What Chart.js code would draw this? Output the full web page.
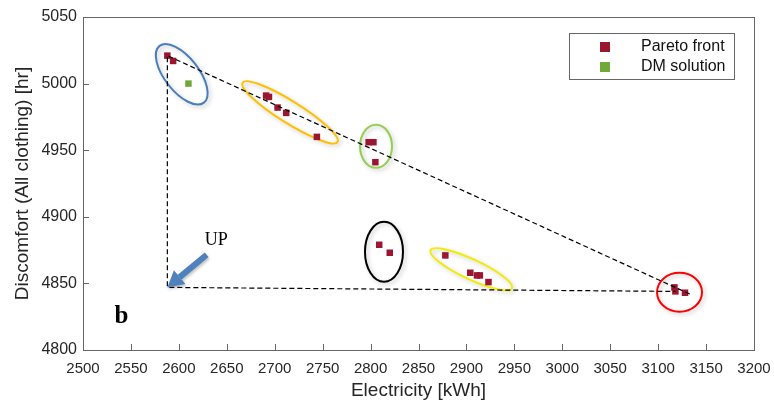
<!DOCTYPE html>
<html>
<head>
<meta charset="utf-8">
<script src="https://cdn.jsdelivr.net/npm/chart.js@4.4.1/dist/chart.umd.min.js"></script>
<style>
  html, body { margin: 0; padding: 0; background: #fff; }
</style>
</head>
<body>
<canvas id="paretoChart" width="774" height="403"></canvas>
<script>
// values
const paretoElec = [2588, 2594, 2691, 2694, 2703, 2712, 2744, 2798, 2803, 2805, 2809, 2820, 2878, 2904, 2911, 2914, 2923, 3117, 3118, 3128];
const paretoDisc = [5021, 5017, 4991, 4990, 4982, 4978, 4960, 4956, 4956, 4941, 4879, 4873, 4871, 4858, 4856, 4856, 4851, 4847, 4844, 4843];
const dmElec = [2610];
const dmDisc = [5000];
// dashed triangle: far end -> top-left -> utopia point -> far end
const frontElec = [3133, 2588, 2588, 3118];
const frontDisc = [4842, 5021, 4847, 4844];
const seriesNames = ["Pareto front", "DM solution"];
const xLimits = [2500, 3200];
const yLimits = [4800, 5050];

const paretoColor = "#9b1631";
const dmColor = "#72a83a";
const fontSans = "'Liberation Sans', Arial, sans-serif";
const fontSerif = "'Liberation Serif', 'Times New Roman', serif";

// hand drawn groupings (centre in data units, radii in px)
const ellipses = [
  {x: 2603, y: 5007, rx: 36, ry: 17, rot: 52, color: "#4a7ebb"},
  {x: 2716, y: 4978.4, rx: 56, ry: 11, rot: 32, color: "#ffc000"},
  {x: 2805.7, y: 4952.9, rx: 16, ry: 21.5, rot: 0, color: "#92d050"},
  {x: 2814, y: 4873.7, rx: 19, ry: 30, rot: 0, color: "#000000"},
  {x: 2905, y: 4860.6, rx: 45, ry: 10, rot: 25, color: "#f2ec00"},
  {x: 3122.3, y: 4843.3, rx: 22.5, ry: 19.5, rot: 0, color: "#ff0000"}
];

const toPoints = (xs, ys) => xs.map((v, i) => ({x: v, y: ys[i]}));

const overlay = {
  id: "overlay",
  beforeDatasetsDraw(chart) {
    const {ctx, scales: {x, y}} = chart;
    ellipses.forEach(e => {
      ctx.save();
      ctx.shadowColor = "rgba(0,0,0,0.22)";
      ctx.shadowBlur = 4;
      ctx.shadowOffsetX = 2;
      ctx.shadowOffsetY = 2;
      ctx.strokeStyle = e.color;
      ctx.lineWidth = 2;
      ctx.beginPath();
      ctx.ellipse(x.getPixelForValue(e.x), y.getPixelForValue(e.y), e.rx, e.ry, e.rot * Math.PI / 180, 0, 2 * Math.PI);
      ctx.stroke();
      ctx.restore();
    });
  },
  afterDraw(chart) {
    const {ctx, chartArea: a, scales: {x, y}} = chart;
    ctx.save();
    // box + inward ticks
    ctx.strokeStyle = "#666";
    ctx.lineWidth = 1;
    ctx.strokeRect(a.left + 0.5, a.top + 0.5, a.right - a.left, a.bottom - a.top);
    ctx.beginPath();
    x.ticks.forEach(t => {
      const px = Math.round(x.getPixelForValue(t.value)) + 0.5;
      ctx.moveTo(px, a.bottom); ctx.lineTo(px, a.bottom - 6);
    });
    y.ticks.forEach(t => {
      const py = Math.round(y.getPixelForValue(t.value)) + 0.5;
      ctx.moveTo(a.left, py); ctx.lineTo(a.left + 6, py);
    });
    ctx.stroke();

    // arrow pointing at the utopia point
    ctx.save();
    const tipX = x.getPixelForValue(frontElec[2]), tipY = y.getPixelForValue(frontDisc[2]);
    const tailX = x.getPixelForValue(2629), tailY = y.getPixelForValue(4871.5);
    const dx = tipX - tailX, dy = tipY - tailY, len = Math.hypot(dx, dy);
    const ux = dx / len, uy = dy / len, head = 16, hw = 9;
    const bx = tipX - ux * head, by = tipY - uy * head;
    ctx.shadowColor = "rgba(0,0,0,0.25)";
    ctx.shadowBlur = 3;
    ctx.shadowOffsetX = 1;
    ctx.shadowOffsetY = 2;
    ctx.strokeStyle = "#4f81bd";
    ctx.fillStyle = "#4f81bd";
    ctx.lineWidth = 6;
    ctx.beginPath();
    ctx.moveTo(tailX, tailY); ctx.lineTo(bx, by);
    ctx.stroke();
    ctx.beginPath();
    ctx.moveTo(tipX, tipY);
    ctx.lineTo(bx - uy * hw, by + ux * hw);
    ctx.lineTo(bx + uy * hw, by - ux * hw);
    ctx.closePath();
    ctx.fill();
    ctx.restore();

    // labels
    ctx.fillStyle = "#000";
    ctx.textBaseline = "alphabetic";
    ctx.textAlign = "left";
    ctx.font = "18px " + fontSerif;
    ctx.fillText("UP", x.getPixelForValue(2627), y.getPixelForValue(4879));
    ctx.textAlign = "center";
    ctx.font = "bold 25px " + fontSerif;
    ctx.fillText("b", x.getPixelForValue(2540), y.getPixelForValue(4820.5));

    // legend box
    const lx = a.right - 185, ly = a.top + 16, lw = 165, lh = 46;
    ctx.fillStyle = "#fff";
    ctx.fillRect(lx, ly, lw, lh);
    ctx.lineWidth = 1;
    ctx.strokeStyle = "#666";
    ctx.strokeRect(lx + 0.5, ly + 0.5, lw, lh);
    ctx.font = "16px " + fontSans;
    ctx.textAlign = "left";
    ctx.textBaseline = "middle";
    [paretoColor, dmColor].forEach((c, i) => {
      const cy = ly + 14 + i * 20;
      ctx.fillStyle = c;
      ctx.fillRect(lx + 31, cy - 5, 10, 10);
      ctx.fillStyle = "#111";
      ctx.fillText(seriesNames[i], lx + 72, cy);
    });
    ctx.restore();
  }
};

const ctx = document.getElementById("paretoChart").getContext("2d");

const paretoChart = new Chart(ctx, {
  type: "scatter",
  data: {
    datasets: [
      {
        label: "front",
        data: toPoints(frontElec, frontDisc),
        showLine: true,
        borderColor: "#000",
        borderWidth: 1.2,
        borderDash: [5, 3],
        pointRadius: 0,
        fill: false
      },
      {
        label: seriesNames[0],
        data: toPoints(paretoElec, paretoDisc),
        pointStyle: "rect",
        pointRadius: 4.6,
        backgroundColor: paretoColor,
        borderWidth: 0
      },
      {
        label: seriesNames[1],
        data: toPoints(dmElec, dmDisc),
        pointStyle: "rect",
        pointRadius: 4.6,
        backgroundColor: dmColor,
        borderWidth: 0
      }
    ]
  },
  options: {
    responsive: false,
    animation: false,
    devicePixelRatio: 1,
    layout: { padding: { top: 17, right: 20, left: 0, bottom: 0 } },
    plugins: {
      legend: { display: false },
      tooltip: { enabled: false }
    },
    scales: {
      x: {
        type: "linear",
        min: xLimits[0],
        max: xLimits[1],
        afterFit: s => { s.height = 53; s.paddingLeft = 0; s.paddingRight = 0; },
        grid: { display: false, drawTicks: false },
        border: { display: false },
        ticks: {
          stepSize: 50,
          padding: 10,
          color: "#262626",
          font: { family: fontSans, size: 15 },
          callback: v => String(v)
        },
        title: {
          display: true,
          text: "Electricity [kWh]",
          color: "#262626",
          font: { family: fontSans, size: 19 },
          padding: { top: 0, bottom: 1 }
        }
      },
      y: {
        type: "linear",
        min: yLimits[0],
        max: yLimits[1],
        afterFit: s => { s.width = 83; s.paddingTop = 0; s.paddingBottom = 0; },
        grid: { display: false, drawTicks: false },
        border: { display: false },
        ticks: {
          stepSize: 50,
          padding: 6,
          color: "#262626",
          font: { family: fontSans, size: 16 },
          callback: v => String(v)
        },
        title: {
          display: true,
          text: "Discomfort (All clothing) [hr]",
          color: "#262626",
          font: { family: fontSans, size: 19 },
          padding: { top: 11, bottom: 0 }
        }
      }
    }
  },
  plugins: [overlay]
});
</script>
</body>
</html>
